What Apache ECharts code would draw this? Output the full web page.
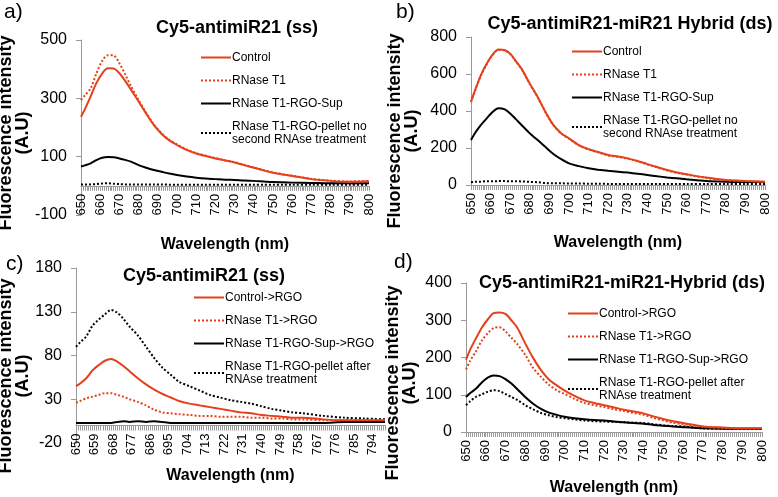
<!DOCTYPE html>
<html>
<head>
<meta charset="utf-8">
<script src="https://cdn.jsdelivr.net/npm/echarts@6/dist/echarts.min.js"></script>
<style>
html,body{margin:0;padding:0;background:#fff;}
#chart{width:778px;height:497px;}
</style>
</head>
<body>
<div id="chart"></div>
<script>
// Wavelengths (nm) at which values were read
const wl = [650,652,655,658,661,664,667,670,673,676,680,684,688,692,696,700,705,710,715,720,725,730,735,740,745,750,755,760,770,780,790,800];

// Panel a) Cy5-antimiR21 (ss)
const aControl = [237,262,306,352,385,403,402,386,360,330,289,247,208,178,156,140,123,111,102,94,87,80,71,62,53,45,39,34,23,17,14,16];
const aRNase   = [294,310,334,385,428,448,447,420,382,342,294,250,210,180,158,142,125,112,103,95,88,81,72,63,54,46,40,35,24,18,15,17];
const aSup     = [66,70,77,88,96,99,98,94,89,83,71,62,54,48,42,37,32,28,25,23,21,20,18,17,15,13,12,11,10,9,9,9];
const aPellet  = [5,5,5,6,8,9,7,6,5,5,5,5,5,5,4,4,4,4,4,4,4,4,4,4,4,4,4,4,4,4,4,4];

// Panel b) Cy5-antimiR21-miR21 Hybrid (ds)
const bControl = [450,510,593,655,705,733,730,710,668,625,548,476,395,325,280,252,216,194,178,162,154,144,130,113,97,81,68,58,40,27,22,18];
const bRNase   = [448,508,590,652,703,730,728,707,666,622,545,474,393,323,278,250,214,192,176,160,152,142,128,111,95,79,66,56,38,26,21,17];
const bSup     = [243,280,324,360,395,415,410,387,355,322,279,243,205,168,140,117,102,90,83,77,72,67,61,54,47,41,36,31,22,18,16,16];
const bPellet  = [15,17,18,20,20,21,21,20,20,19,17,15,10,9,9,8,8,7,7,6,6,6,5,5,5,5,5,5,5,5,5,5];

// Panel c) Cy5-antimiR21 (ss) after RGO
const cControl = [45,48,54,63,69,74,76,73,68,62,54,47,41,36,32,28,25,23,21,19,17,15,14,12,11,10,9,9,7,6,6,6];
const cRNase   = [26,28,31,33,35,37,37,35,33,30,27,23,18,15,14,13,12,11,11,10,10,10,9,9,8,8,7,7,6,6,6,6];
const cSup     = [3,3,3,3,3,3,3,4,5,4,5,4,5,4,3,3,3,3,3,3,3,3,3,3,3,3,3,3,3,4,4,4];
const cPellet  = [90,95,102,114,121,127,132,129,122,113,103,90,77,66,58,50,45,40,35,32,29,27,25,22,19,17,15,14,11,9,8,7];

// Panel d) Cy5-antimiR21-miR21-Hybrid (ds) after RGO
const dControl = [194,220,251,280,302,319,321,317,300,280,238,199,166,141,125,111,97,85,78,72,66,60,55,50,42,35,29,24,15,12,10,10];
const dRNase   = [168,190,216,245,265,279,281,270,253,236,207,172,148,127,112,102,89,78,72,67,61,56,51,46,38,31,25,21,14,11,10,10];
const dSup     = [94,104,116,133,146,152,150,142,130,115,94,76,62,52,46,41,37,34,32,31,28,26,24,22,19,17,15,13,10,9,9,9];
const dPellet  = [72,82,94,101,108,112,110,102,94,86,72,61,51,45,40,37,34,31,29,28,27,26,25,24,21,18,16,15,10,9,8,8];

const namesAB = ['Control','RNase T1','RNase T1-RGO-Sup','RNase T1-RGO-pellet no\nsecond RNAse treatment'];
const namesCD = ['Control->RGO','RNase T1->RGO','RNase T1-RGO-Sup->RGO','RNase T1-RGO-pellet after\nRNAse treatment'];
const titles = ['Cy5-antimiR21 (ss)','Cy5-antimiR21-miR21 Hybrid (ds)','Cy5-antimiR21 (ss)','Cy5-antimiR21-miR21-Hybrid (ds)'];
const panelLabels = ['a)','b)','c)','d)'];
const yRanges = [[-100,500,200],[0,800,200],[-20,180,50],[0,400,100]];
const xIntervals = [10,10,9,10];

const FONT = '"Liberation Sans", Arial, sans-serif';
const RED = '#e5401c';
const styles = [
  {color: RED, type: 'solid'},
  {color: RED, type: [2,2]},
  {color: '#000', type: 'solid'},
  {color: '#000', type: [2,2]}
];

const grids = [
  {left: 81, top: 40, width: 288, height: 175},
  {left: 471, top: 37, width: 294, height: 148},
  {left: 76, top: 268, width: 309, height: 175},
  {left: 466, top: 283, width: 296, height: 152}
];
const legendPos = [
  {left: 195, top: 46},
  {left: 566, top: 40},
  {left: 188, top: 286},
  {left: 562, top: 302}
];
const titlePos = [
  {left: 237, top: 19},
  {left: 630, top: 15},
  {left: 204, top: 267},
  {left: 622, top: 274}
];
const labelPos = [
  {left: 4, top: 2},
  {left: 396, top: 2},
  {left: 6, top: 254},
  {left: 394, top: 252}
];
const xNameGaps = [51, 50, 42, 48];
const yNamePos = [[15,133],[404,131],[15,376],[402,383]];

const panelData = [
  [aControl,aRNase,aSup,aPellet],
  [bControl,bRNase,bSup,bPellet],
  [cControl,cRNase,cSup,cPellet],
  [dControl,dRNase,dSup,dPellet]
];

const xAxes = [], yAxes = [], series = [], legends = [], titleComps = [], graphics = [];
for (let p = 0; p < 4; p++) {
  const names = p < 2 ? namesAB : namesCD;
  const [ymin, ymax, yint] = yRanges[p];
  // x axis sits at the y = 0 level (moved up from the grid bottom)
  const zeroOffset = -grids[p].height * (0 - ymin) / (ymax - ymin);
  xAxes.push({
    type: 'value', gridIndex: p, min: 650, max: 800, interval: xIntervals[p],
    position: 'bottom', offset: zeroOffset,
    name: 'Wavelength (nm)', nameLocation: 'middle', nameGap: xNameGaps[p],
    nameTextStyle: {fontFamily: FONT, fontWeight: 'bold', fontSize: 16, color: '#000'},
    axisLine: {show: true, onZero: false, lineStyle: {color: '#9a9a9a', width: 1}},
    axisTick: {show: true, length: 5, lineStyle: {color: '#9a9a9a'}},
    minorTick: {show: true, splitNumber: xIntervals[p], length: 5, lineStyle: {color: '#9a9a9a'}},
    axisLabel: {rotate: 90, fontFamily: FONT, fontSize: 13, color: '#000', margin: 8, showMaxLabel: p !== 2},
    splitLine: {show: false}, minorSplitLine: {show: false}
  });
  yAxes.push({
    type: 'value', gridIndex: p, min: ymin, max: ymax, interval: yint,
    axisLine: {show: true, onZero: false, lineStyle: {color: '#9a9a9a', width: 1}},
    axisTick: {show: true, length: 5, lineStyle: {color: '#9a9a9a'}},
    axisLabel: {fontFamily: FONT, fontSize: 16, color: '#000', margin: 14},
    splitLine: {show: false}
  });
  for (let s = 0; s < 4; s++) {
    series.push({
      type: 'line', name: names[s], xAxisIndex: p, yAxisIndex: p,
      data: wl.map((w, i) => [w, panelData[p][s][i]]),
      symbol: 'none', smooth: 0.3,
      lineStyle: {color: styles[s].color, type: styles[s].type, width: 2},
      itemStyle: {color: styles[s].color},
      z: 10 - s
    });
  }
  legends.push({
    data: names, orient: 'vertical', left: legendPos[p].left, top: legendPos[p].top,
    itemWidth: 30, itemHeight: 14, itemGap: 10, selectedMode: false,
    itemStyle: {opacity: 0},
    textStyle: {fontFamily: FONT, fontSize: 12, color: '#000', lineHeight: 13, padding: [0,0,0,-4]}
  });
  titleComps.push({
    text: titles[p], left: titlePos[p].left, top: titlePos[p].top, textAlign: 'center', padding: 0,
    textStyle: {fontFamily: FONT, fontWeight: 'bold', fontSize: 18, color: '#000'}
  });
  titleComps.push({
    text: panelLabels[p], left: labelPos[p].left, top: labelPos[p].top, padding: 0,
    textStyle: {fontFamily: FONT, fontWeight: 'normal', fontSize: 21, color: '#000'}
  });
  graphics.push({
    type: 'text', x: yNamePos[p][0], y: yNamePos[p][1], rotation: Math.PI / 2,
    style: {text: 'Fluorescence intensity\n(A.U)', font: 'bold 18px ' + FONT, fill: '#000',
            align: 'center', verticalAlign: 'middle', lineHeight: 17}
  });
}

const chart = echarts.init(document.getElementById('chart'), null, {renderer: 'canvas'});
chart.setOption({
  backgroundColor: '#fff',
  animation: false,
  title: titleComps,
  legend: legends,
  grid: grids,
  xAxis: xAxes,
  yAxis: yAxes,
  series: series,
  graphic: graphics
});
</script>
</body>
</html>
